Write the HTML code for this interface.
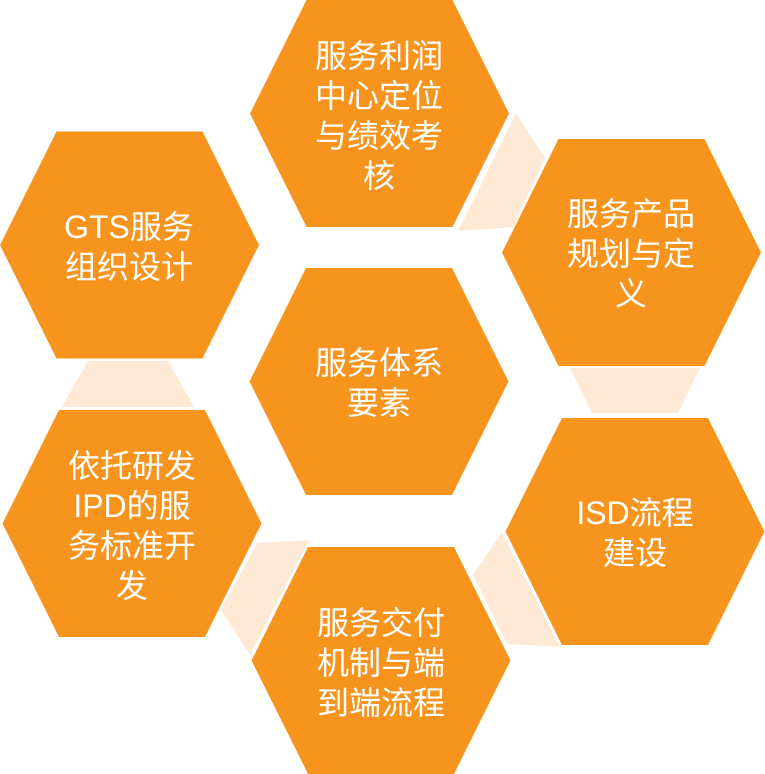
<!DOCTYPE html>
<html><head><meta charset="utf-8"><style>
html,body{margin:0;padding:0;background:#fff;}
svg{display:block}
text{font-family:"Liberation Sans","Noto Sans CJK SC",sans-serif;font-size:32px;fill:#fff;text-anchor:middle;}
</style></head><body>
<svg width="765" height="774" viewBox="0 0 765 774" xmlns="http://www.w3.org/2000/svg">
<defs>
<polygon id="hx" points="-73,-113.5 73,-113.5 129.5,0 73,113.5 -73,113.5 -129.5,0" fill="#f7941e"/>
</defs>
<g fill="#fde9d4">
<polygon points="516,114 545,158 513,227 458,231"/>
<polygon points="570,368 700,368 678,413 592,413"/>
<polygon points="502,532 473,575 507,644 560,647"/>
<polygon points="257,543 309,540 250,655 221,610"/>
<polygon points="88,361 168,361 194,407 62,407"/>
</g>
<use href="#hx" x="379.5" y="113.5"/>
<use href="#hx" x="129.5" y="245"/>
<use href="#hx" x="379" y="381.5"/>
<use href="#hx" x="631.5" y="252.5"/>
<use href="#hx" x="635" y="531.5"/>
<use href="#hx" x="381" y="660.5"/>
<use href="#hx" x="132" y="523.5"/>
<text x="379" y="67">服务利润</text>
<text x="379" y="107">中心定位</text>
<text x="379" y="147">与绩效考</text>
<text x="379" y="187">核</text>
<text x="129" y="238">GTS服务</text>
<text x="129" y="278">组织设计</text>
<text x="631" y="225">服务产品</text>
<text x="631" y="265">规划与定</text>
<text x="631" y="305">义</text>
<text x="379" y="374">服务体系</text>
<text x="379" y="414">要素</text>
<text x="635" y="524">ISD流程</text>
<text x="635" y="564">建设</text>
<text x="132" y="477">依托研发</text>
<text x="132" y="517">IPD的服</text>
<text x="132" y="557">务标准开</text>
<text x="132" y="597">发</text>
<text x="381" y="634">服务交付</text>
<text x="381" y="674">机制与端</text>
<text x="381" y="714">到端流程</text>
</svg>
</body></html>
